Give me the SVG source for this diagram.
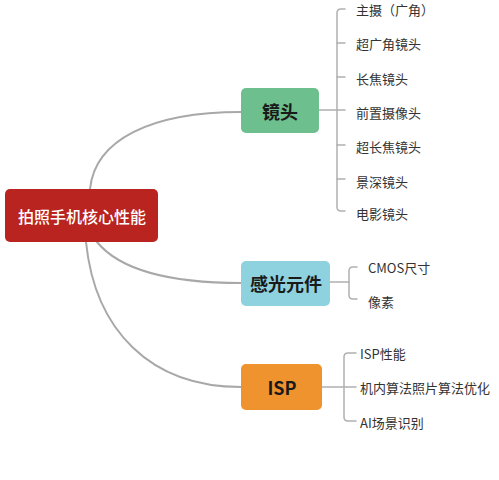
<svg xmlns="http://www.w3.org/2000/svg" width="499" height="480" viewBox="0 0 499 480">
<style>
.c{fill:none;stroke:#a8a8a8;stroke-width:2;stroke-linecap:round}
.b{fill:none;stroke:#b0b0b0;stroke-width:1.5;stroke-linecap:round}
.t{font-family:"Noto Sans CJK SC","Liberation Sans",sans-serif;text-anchor:middle;dominant-baseline:central}
.n{font-size:18px;font-weight:bold;fill:#1a1a1a}
.l{font-family:"Noto Sans CJK SC","Liberation Sans",sans-serif;font-size:13px;fill:#333;dominant-baseline:central}
</style>
<rect width="499" height="480" fill="#fff"/>
<g id="connectors">
<path class="c" d="M90 189 C95 140 150 112 241 112"/>
<path class="c" d="M97 242 C120 270 170 283 241 283"/>
<path class="c" d="M86 242 C95 330 150 387 241 387"/>
<path class="b" d="M319 110 H345"/>
<path class="b" d="M345 9 H341 Q337 9 337 13 V207 Q337 211 341 211 H345"/>
<path class="b" d="M337 43 H345 M337 77 H345 M337 145 H345 M337 179 H345"/>
<path class="b" d="M330 282 H349"/>
<path class="b" d="M357 267 H353 Q349 267 349 271 V295 Q349 299 353 299 H357"/>
<path class="b" d="M322 387 H356"/>
<path class="b" d="M356 353 H348 Q344 353 344 357 V417 Q344 421 348 421 H356"/>
</g>
<g id="root">
<rect x="5" y="189" width="153" height="53" rx="5" fill="#b92320"/>
<text class="t" x="82" y="216" font-size="16" fill="#fff" font-weight="500">拍照手机核心性能</text>
</g>
<g id="lens">
<rect x="241" y="88" width="78" height="45" rx="5" fill="#6dbf8d"/>
<text class="t n" x="280" y="111">镜头</text>
</g>
<g id="sensor">
<rect x="241" y="261" width="89" height="45" rx="5" fill="#8fd2df"/>
<text class="t n" x="286" y="283">感光元件</text>
</g>
<g id="isp">
<rect x="241" y="364" width="81" height="46" rx="5" fill="#ef932f"/>
<text class="t n" x="282" y="387">ISP</text>
</g>
<g id="lens-items">
<text class="l" x="356" y="9">主摄（广角）</text>
<text class="l" x="356" y="43">超广角镜头</text>
<text class="l" x="356" y="78">长焦镜头</text>
<text class="l" x="356" y="112">前置摄像头</text>
<text class="l" x="356" y="146">超长焦镜头</text>
<text class="l" x="356" y="181">景深镜头</text>
<text class="l" x="356" y="213">电影镜头</text>
</g>
<g id="sensor-items">
<text class="l" x="368" y="267">CMOS尺寸</text>
<text class="l" x="368" y="301">像素</text>
</g>
<g id="isp-items">
<text class="l" x="360" y="353">ISP性能</text>
<text class="l" x="360" y="387">机内算法照片算法优化</text>
<text class="l" x="360" y="422">AI场景识别</text>
</g>
</svg>
